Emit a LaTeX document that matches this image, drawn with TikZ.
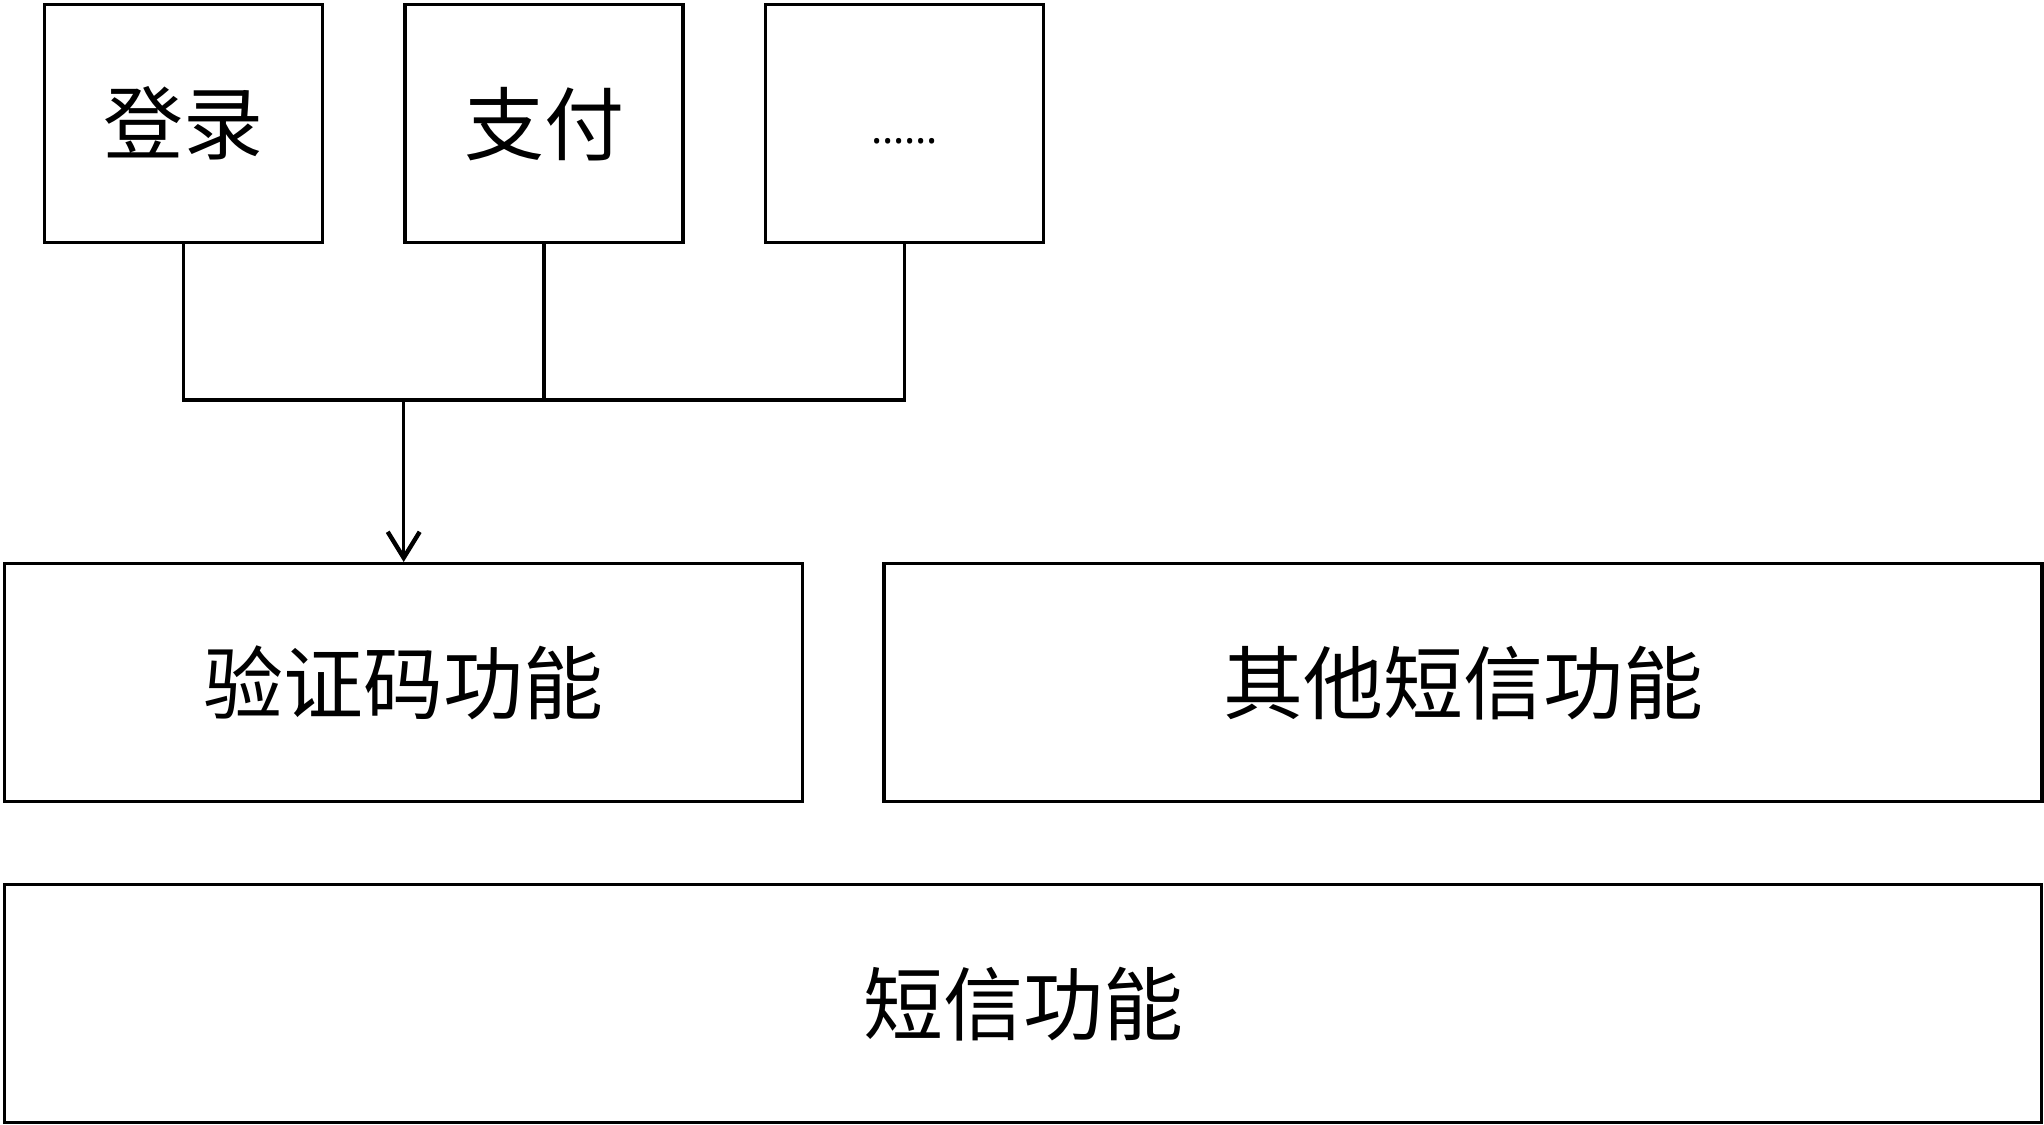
\documentclass[tikz,border=0pt]{standalone}
\usepackage{fontspec}
\setmainfont{Noto Sans CJK SC}
\newfontfamily\latinfont{Noto Sans}
\usepackage{tikz}
\usetikzlibrary{positioning}
\usetikzlibrary{arrows.meta}

\begin{document}
\begin{tikzpicture}[
    node distance = 39.5pt and 39.5pt,% for distance between nodes
    line width=1.7pt,
       box/.style = {draw, minimum height=119pt, inner sep=0pt,
                     font=\fontsize{40pt}{48pt}\selectfont},% nodes style
       topbox/.style = {box, minimum width=139pt},
       codebox/.style = {box, minimum width=399pt},
       otherbox/.style = {box, minimum width=579pt},
       smsbox/.style = {box, minimum width=1018.5pt}
    ]
    \useasboundingbox (0,0) rectangle (1022pt,-562pt);
    \node (login) [topbox, anchor=north west] at (21.5pt,-1.5pt) {登录};
    \node (pay) [topbox, right=of login] {支付};
    \node (more) [topbox, right=of pay]
        {\latinfont\fontsize{21pt}{25pt}\selectfont\rule{0pt}{20pt}\textbf{……}};
    \node (code) [codebox, anchor=north west] at (1.5pt,-281pt) {验证码功能};
    \node (other) [otherbox, right=39pt of code] {其他短信功能};
    \node (sms) [smsbox, anchor=north west] at (1.5pt,-441.5pt) {短信功能};
    \coordinate (bus) at (code.north |- 0,-200pt);
    \draw (login.south) |- (bus) -| (more.south);
    \draw (pay.south) -- (pay.south |- bus);
    \draw[-{Straight Barb[length=13pt,width=16pt,line width=2.2pt]}] (bus) -- (code.north);
\end{tikzpicture}
\end{document}
